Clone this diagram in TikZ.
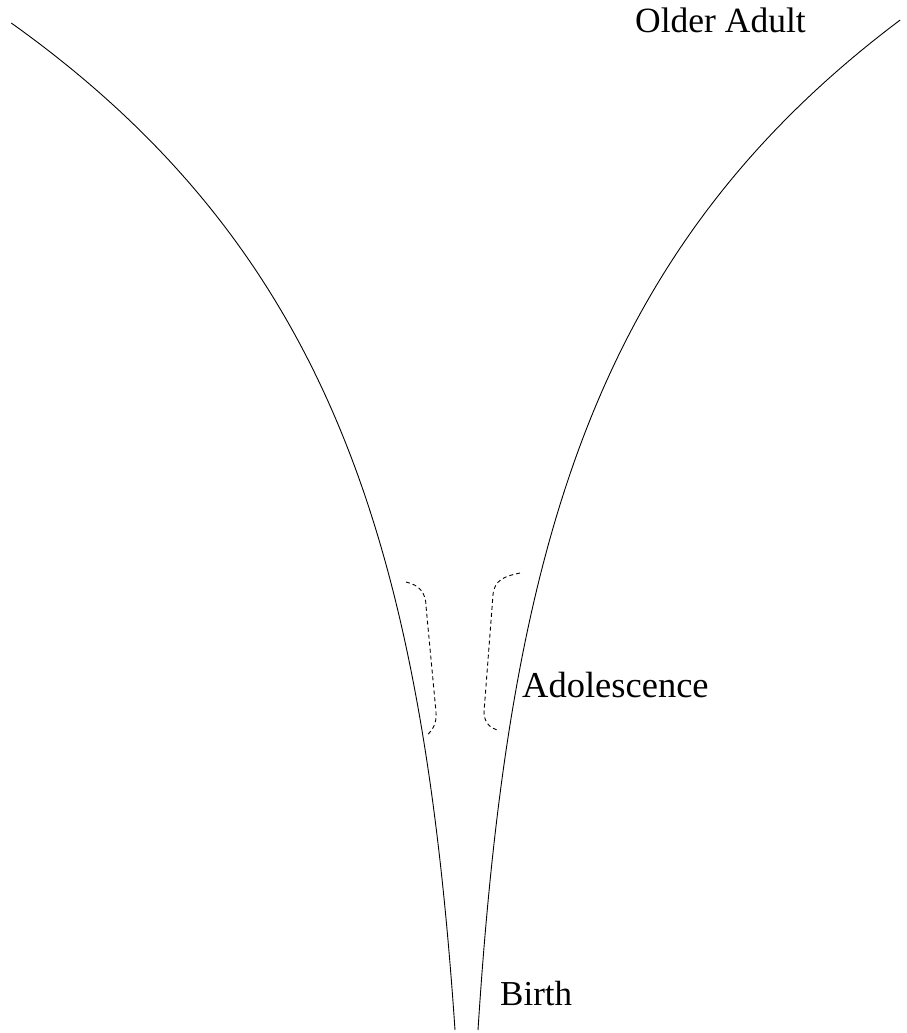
\documentclass[tikz,border=0pt]{standalone}
\usepackage{fontspec}
\setmainfont{Liberation Serif}
\begin{document}
\begin{tikzpicture}[x=1pt,y=-1pt,
  curve/.style={line width=0.9pt, black},
  bracket/.style={line width=0.9pt, dashed, dash pattern=on 4pt off 3pt},
  lbl/.style={inner sep=0pt, anchor=base west}]
\useasboundingbox (0,0) rectangle (907,1033);
\draw[curve] plot[domain=0:1007, samples=250, smooth, variable=\h] ({455-22.6*(exp(0.003*\h)-1)}, {1030-\h});
\draw[curve] plot[domain=0:1010, samples=250, smooth, variable=\h] ({478+21.3*(exp(0.003*\h)-1)}, {1030-\h});
\draw[bracket] (406,582) .. controls (420,585) and (426,594) .. (426,606) -- (436,712) .. controls (437,724) and (432,731) .. (426,736);
\draw[bracket] (520,573) .. controls (505,576) and (494,580) .. (493,595) -- (484,712) .. controls (484,722) and (490,728) .. (497,730);
\node[lbl, font=\fontsize{35.5}{40}\selectfont] (older) at (635,33) {Older Adult};
\node[lbl, font=\fontsize{36.5}{42}\selectfont] (adol) at (522,697) {Adolescence};
\node[lbl, font=\fontsize{35}{40}\selectfont] (birth) at (500,1005) {Birth};
\end{tikzpicture}
\end{document}
